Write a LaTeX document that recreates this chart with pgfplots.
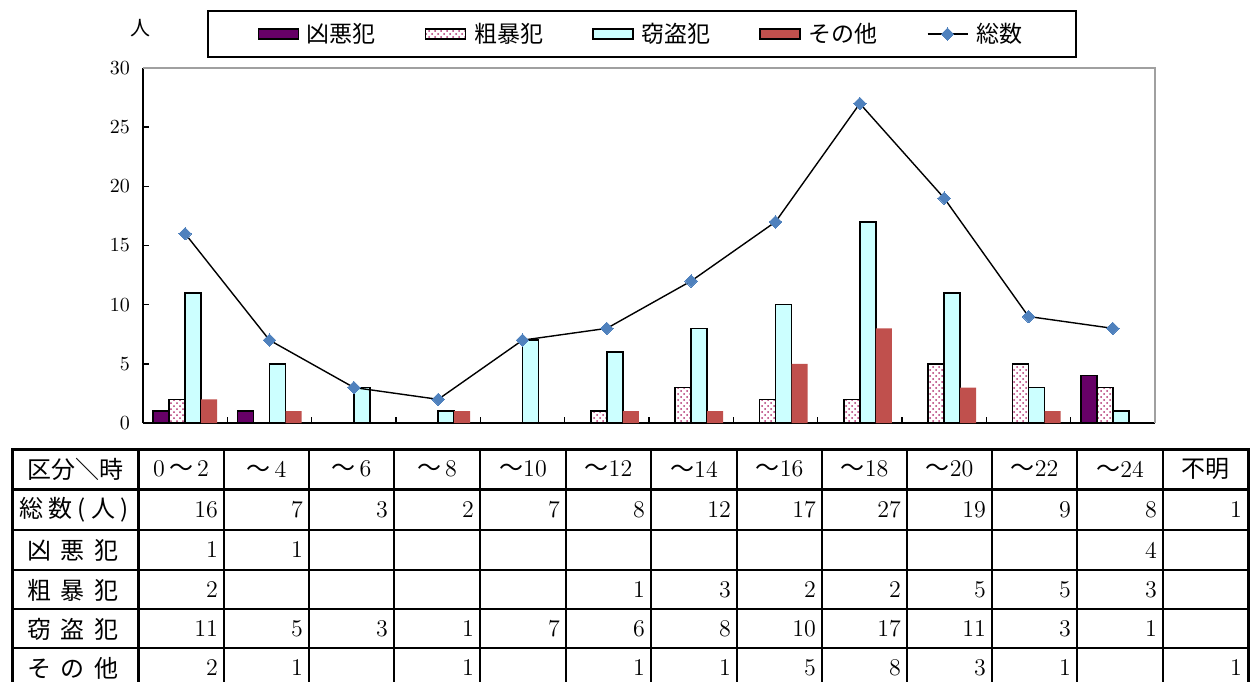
\documentclass[border=0pt]{standalone}
\usepackage{fontspec}
\usepackage{pgfplots}
\pgfplotsset{compat=1.18}
\usetikzlibrary{patterns}
\newfontfamily\cjk{Noto Sans CJK JP}
\definecolor{kyoaku}{HTML}{660066}
\definecolor{settou}{HTML}{CCFFFF}
\definecolor{sonota}{HTML}{C0504D}
\definecolor{soubou}{HTML}{B03070}
\definecolor{mblue}{HTML}{4F81BD}
\definecolor{framegray}{HTML}{A0A0A0}
\newcommand\til{{\cjk ～}}
\pgfplotsset{
  barleg/.style={legend image code/.code={\draw[##1] (0pt,-2.5pt) rectangle (20pt,2.5pt);}},
  lineleg/.style={legend image code/.code={\draw[mark repeat=2,mark phase=2,##1] plot coordinates {(0pt,0pt) (10pt,0pt) (20pt,0pt)};}},
}
\begin{document}
\begin{tikzpicture}
\begin{axis}[
  at={(71.5pt,-211.5pt)}, anchor=south west,
  scale only axis, width=506pt, height=177.5pt,
  xmin=-0.5, xmax=11.5, ymin=0, ymax=30,
  axis x line*=bottom, axis y line*=left,
  axis line style={black, line width=0.8pt, -},
  xtick={0.5,1.5,...,10.5}, xticklabels={},
  ytick={0,5,...,30},
  tick align=inside, major tick length=3pt,
  tick style={black, line width=0.8pt},
  yticklabel style={font=\fontsize{10}{12}\selectfont, xshift=-3pt},
  legend columns=5,
  legend cell align=left,
  legend style={at={(0.493,1)}, anchor=south, yshift=5pt, draw=black, line width=0.8pt,
    font=\cjk\fontsize{11.5}{13}\selectfont, inner xsep=25pt, inner ysep=4pt,
    /tikz/every even column/.append style={column sep=22.5pt}},
  after end axis/.code={\draw[framegray, line width=0.8pt] (rel axis cs:0,1) -- (rel axis cs:1,1) -- (rel axis cs:1,0);},
]
% 凶悪犯
\addplot[ybar, bar width=8pt, bar shift=-12pt, fill=kyoaku, draw=black, line width=0.7pt, barleg]
  coordinates {(0,1) (1,1) (11,4)};
\addlegendentry{\,凶悪犯}
% 粗暴犯
\addplot[ybar, bar width=8pt, bar shift=-4pt, pattern=crosshatch dots, pattern color=soubou, draw=black, line width=0.7pt, barleg]
  coordinates {(0,2) (5,1) (6,3) (7,2) (8,2) (9,5) (10,5) (11,3)};
\addlegendentry{\,粗暴犯}
% 窃盗犯
\addplot[ybar, bar width=8pt, bar shift=4pt, fill=settou, draw=black, line width=0.7pt, barleg]
  coordinates {(0,11) (1,5) (2,3) (3,1) (4,7) (5,6) (6,8) (7,10) (8,17) (9,11) (10,3) (11,1)};
\addlegendentry{\,窃盗犯}
% その他
\addplot[ybar, bar width=8pt, bar shift=12pt, fill=sonota, draw=none, barleg]
  coordinates {(0,2) (1,1) (3,1) (5,1) (6,1) (7,5) (8,8) (9,3) (10,1)};
\addlegendentry{\,その他}
% 総数
\addplot[black, line width=0.7pt, mark=square*, mark size=2.2pt,
  mark options={rotate=45, fill=mblue, draw=mblue, line width=0pt}, lineleg]
  coordinates {(0,16) (1,7) (2,3) (3,2) (4,7) (5,8) (6,12) (7,17) (8,27) (9,19) (10,9) (11,8)};
\addlegendentry{\,総数}
\end{axis}
\node[font=\cjk\fontsize{10}{12}\selectfont] at (70pt,-14pt) {人};

% data table
\begin{scope}[x=0.5pt, y=-0.5pt, font=\fontsize{12}{14}\selectfont]
\def\edges{{138,224,309,394,480,566,651,737,822,907,992,1077,1163,1248}}
\foreach \y in {530,570,609,648} \draw[line width=0.8pt] (12,\y) -- (1248,\y);
\foreach \x in {224,309,394,480,566,651,737,822,907,992,1077,1163} \draw[line width=1.1pt] (\x,449) -- (\x,682);
\draw[line width=1.5pt] (12,449) -- (1248,449);
\draw[line width=1.5pt] (12,489) -- (1248,489);
\draw[line width=1.5pt] (12,448) -- (12,682);
\draw[line width=1.5pt] (138,448) -- (138,682);
\draw[line width=1.5pt] (1248,448) -- (1248,682);
% header
\node[font=\cjk\fontsize{12}{14}\selectfont] at (75,469) {区分＼時};
\foreach \t [count=\i] in {{0\,\til\,2},{\til\,4},{\til\,6},{\til\,8},{\til10},{\til12},{\til14},{\til16},{\til18},{\til20},{\til22},{\til24},{\cjk 不明}} {
  \pgfmathsetmacro\xl{\edges[\i-1]}
  \pgfmathsetmacro\xr{\edges[\i]}
  \node at ({(\xl+\xr)/2},469) {\t};
}
% row labels
\node[font=\cjk\fontsize{12}{14}\selectfont] at (74,510) {\makebox[55pt][s]{総\hfill 数\hfill (\hfill 人\hfill )}};
\node[font=\cjk\fontsize{12}{14}\selectfont] at (73,550) {\makebox[46pt][s]{凶\hfill 悪\hfill 犯}};
\node[font=\cjk\fontsize{12}{14}\selectfont] at (73,590) {\makebox[46pt][s]{粗\hfill 暴\hfill 犯}};
\node[font=\cjk\fontsize{12}{14}\selectfont] at (73,629) {\makebox[46pt][s]{窃\hfill 盗\hfill 犯}};
\node[font=\cjk\fontsize{12}{14}\selectfont] at (73,668) {\makebox[46pt][s]{そ\hfill の\hfill 他}};
% values
\foreach \c/\v in {1/16,2/7,3/3,4/2,5/7,6/8,7/12,8/17,9/27,10/19,11/9,12/8,13/1} {
  \pgfmathsetmacro\xr{\edges[\c]}
  \node[anchor=east] at (\xr+1,510) {\v};
}
\foreach \c/\v in {1/1,2/1,12/4} {
  \pgfmathsetmacro\xr{\edges[\c]}
  \node[anchor=east] at (\xr+1,550) {\v};
}
\foreach \c/\v in {1/2,6/1,7/3,8/2,9/2,10/5,11/5,12/3} {
  \pgfmathsetmacro\xr{\edges[\c]}
  \node[anchor=east] at (\xr+1,590) {\v};
}
\foreach \c/\v in {1/11,2/5,3/3,4/1,5/7,6/6,7/8,8/10,9/17,10/11,11/3,12/1} {
  \pgfmathsetmacro\xr{\edges[\c]}
  \node[anchor=east] at (\xr+1,629) {\v};
}
\foreach \c/\v in {1/2,2/1,4/1,6/1,7/1,8/5,9/8,10/3,11/1,13/1} {
  \pgfmathsetmacro\xr{\edges[\c]}
  \node[anchor=east] at (\xr+1,668) {\v};
}
\end{scope}
\pgfresetboundingbox
\useasboundingbox (0,0) rectangle (626pt,-341pt);
\end{tikzpicture}
\end{document}
